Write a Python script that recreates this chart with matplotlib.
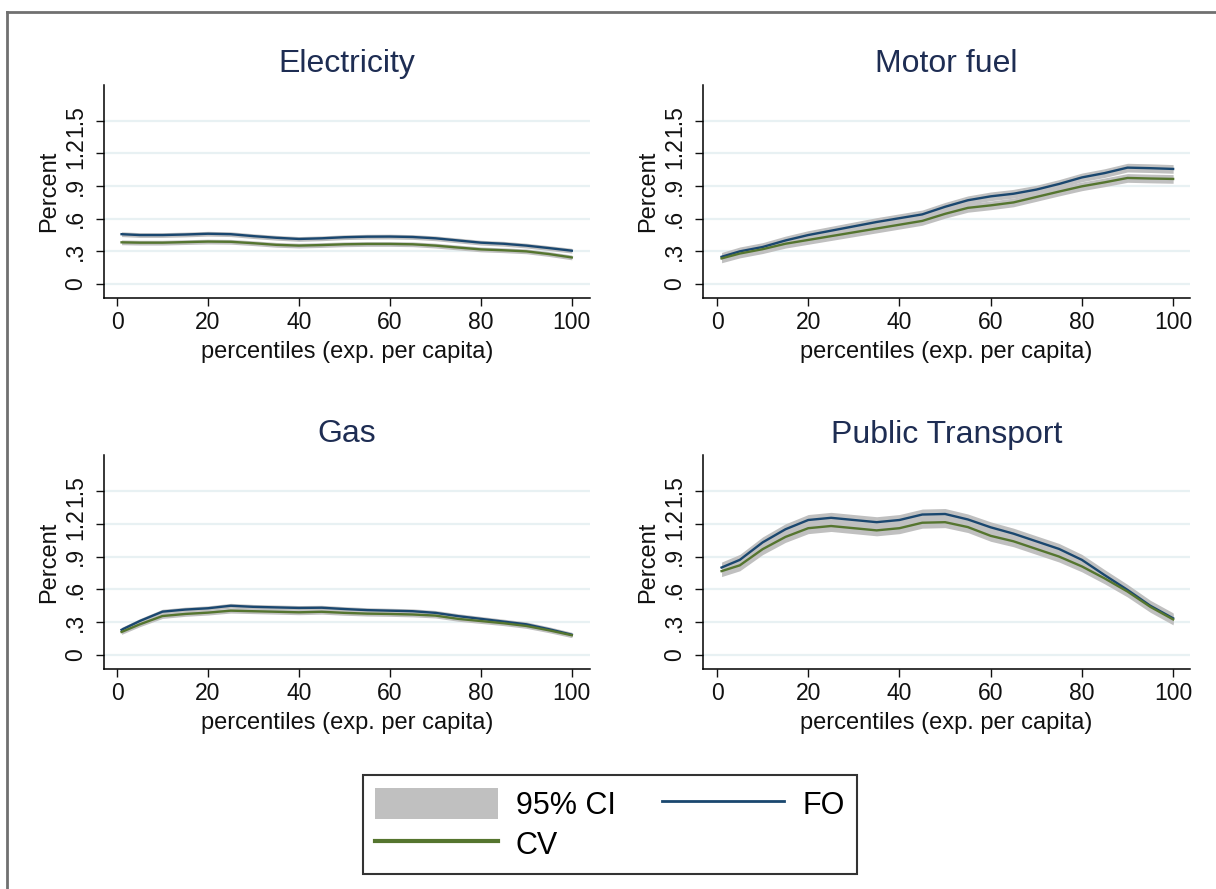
import numpy as np
import matplotlib
matplotlib.use('Agg')
import matplotlib.pyplot as plt
from matplotlib.patches import Patch
from matplotlib.lines import Line2D

plt.rcParams['font.family'] = ['Liberation Sans', 'DejaVu Sans']

# percentiles of expenditure per capita
pct = [1, 5, 10, 15, 20, 25, 30, 35, 40, 45, 50, 55, 60, 65, 70, 75, 80, 85, 90, 95, 100]

titles = ['Electricity', 'Motor fuel', 'Gas', 'Public Transport']

elec_fo = [0.458, 0.45, 0.45, 0.455, 0.462, 0.458, 0.44, 0.425, 0.414, 0.42, 0.43,
           0.435, 0.436, 0.432, 0.42, 0.40, 0.38, 0.37, 0.353, 0.33, 0.306]
elec_cv = [0.383, 0.38, 0.38, 0.385, 0.39, 0.388, 0.375, 0.36, 0.353, 0.358, 0.365,
           0.368, 0.368, 0.365, 0.353, 0.335, 0.318, 0.31, 0.30, 0.275, 0.244]

fuel_fo = [0.25, 0.30, 0.34, 0.40, 0.45, 0.49, 0.53, 0.57, 0.605, 0.64, 0.71,
           0.77, 0.806, 0.83, 0.868, 0.92, 0.98, 1.02, 1.07, 1.065, 1.058]
fuel_cv = [0.235, 0.28, 0.32, 0.37, 0.405, 0.44, 0.475, 0.51, 0.545, 0.58, 0.645,
           0.70, 0.723, 0.75, 0.80, 0.85, 0.898, 0.935, 0.975, 0.97, 0.966]

gas_fo = [0.23, 0.31, 0.396, 0.415, 0.427, 0.45, 0.44, 0.435, 0.43, 0.432, 0.42,
          0.41, 0.405, 0.40, 0.385, 0.355, 0.33, 0.305, 0.28, 0.235, 0.185]
gas_cv = [0.21, 0.28, 0.356, 0.375, 0.387, 0.405, 0.40, 0.395, 0.39, 0.395, 0.385,
          0.378, 0.375, 0.37, 0.36, 0.33, 0.31, 0.29, 0.265, 0.225, 0.18]

pt_fo = [0.80, 0.87, 1.03, 1.15, 1.235, 1.255, 1.235, 1.215, 1.235, 1.285, 1.29,
         1.24, 1.168, 1.11, 1.04, 0.97, 0.87, 0.73, 0.595, 0.45, 0.335]
pt_cv = [0.767, 0.82, 0.968, 1.08, 1.16, 1.18, 1.16, 1.14, 1.16, 1.21, 1.215,
         1.17, 1.09, 1.04, 0.97, 0.90, 0.81, 0.70, 0.58, 0.44, 0.325]

# half width of the 95% CI band
ci_hw = [0.022, 0.04, 0.022, 0.05]

ytick_vals = [0, 0.3, 0.6, 0.9, 1.2, 1.5]
ytick_labs = ['0', '.3', '.6', '.9', '1.2', '1.5']
xtick_vals = [0, 20, 40, 60, 80, 100]

fo_all = [elec_fo, fuel_fo, gas_fo, pt_fo]
cv_all = [elec_cv, fuel_cv, gas_cv, pt_cv]

navy = '#1a476f'
green = '#55752f'
band = '#c0c0c0'
grid_c = '#e8f1f3'

W, H = 1216, 889
fig = plt.figure(figsize=(W/100, H/100), dpi=100)

# axes boxes in pixels: left, right, top, bottom
boxes = [(104, 590, 85, 298), (703, 1190, 85, 298),
         (104, 590, 455, 669), (703, 1190, 455, 669)]

for i in range(4):
    l, r, t, b = boxes[i]
    ax = fig.add_axes([l/W, 1-b/H, (r-l)/W, (b-t)/H])
    x = np.array(pct)
    fo = np.array(fo_all[i])
    cv = np.array(cv_all[i])
    ax.fill_between(x, fo-ci_hw[i], fo+ci_hw[i], color=band, lw=0, zorder=2)
    ax.fill_between(x, cv-ci_hw[i], cv+ci_hw[i], color=band, lw=0, zorder=2)
    ax.plot(x, fo, color=navy, lw=1.7, zorder=3)
    ax.plot(x, cv, color=green, lw=1.7, zorder=3)
    if i % 2 == 0:
        ax.set_xlim(-2.86, 104)
    else:
        ax.set_xlim(-3.07, 103.7)
    ax.set_ylim(-0.129, 1.83)
    ax.set_yticks(ytick_vals)
    ax.set_yticklabels(ytick_labs, rotation=90, va='center')
    ax.set_xticks(xtick_vals)
    ax.tick_params(axis='both', labelsize=16.5, length=6, width=1, colors='#111111')
    ax.tick_params(axis='y', pad=6)
    for yv in ytick_vals:
        ax.axhline(yv, color=grid_c, lw=1.6, zorder=1)
    for s in ['top', 'right']:
        ax.spines[s].set_visible(False)
    ax.spines['left'].set_linewidth(1.1)
    ax.spines['bottom'].set_linewidth(1.1)
    ax.set_xlabel('percentiles (exp. per capita)', fontsize=17, color='#111111', labelpad=5)
    ax.set_ylabel('Percent', fontsize=17, color='#111111', labelpad=3)
    ax.set_title(titles[i], fontsize=23, color='#1e2d53', pad=9)

handles = [Patch(facecolor=band, edgecolor='none', label='95% CI'),
           Line2D([], [], color=green, lw=3, label='CV'),
           Line2D([], [], color=navy, lw=2, label='FO')]
leg = fig.legend(handles=handles, ncol=2, loc='center', bbox_to_anchor=(610/W, 1-824.5/H),
                 fontsize=22, frameon=True, fancybox=False, handlelength=4.0,
                 handleheight=1.2, handletextpad=0.6, columnspacing=1.5,
                 labelspacing=0.25, borderpad=0.4)
leg.get_frame().set_edgecolor('black')
leg.get_frame().set_linewidth(1.5)

# outer frame (top and left edges visible)
fig.add_artist(Line2D([7/W, 7/W], [0, 1-12/H], transform=fig.transFigure, color='#707070', lw=2))
fig.add_artist(Line2D([7/W, 1], [1-12/H, 1-12/H], transform=fig.transFigure, color='#707070', lw=2))

plt.savefig('out.png', dpi=100)
